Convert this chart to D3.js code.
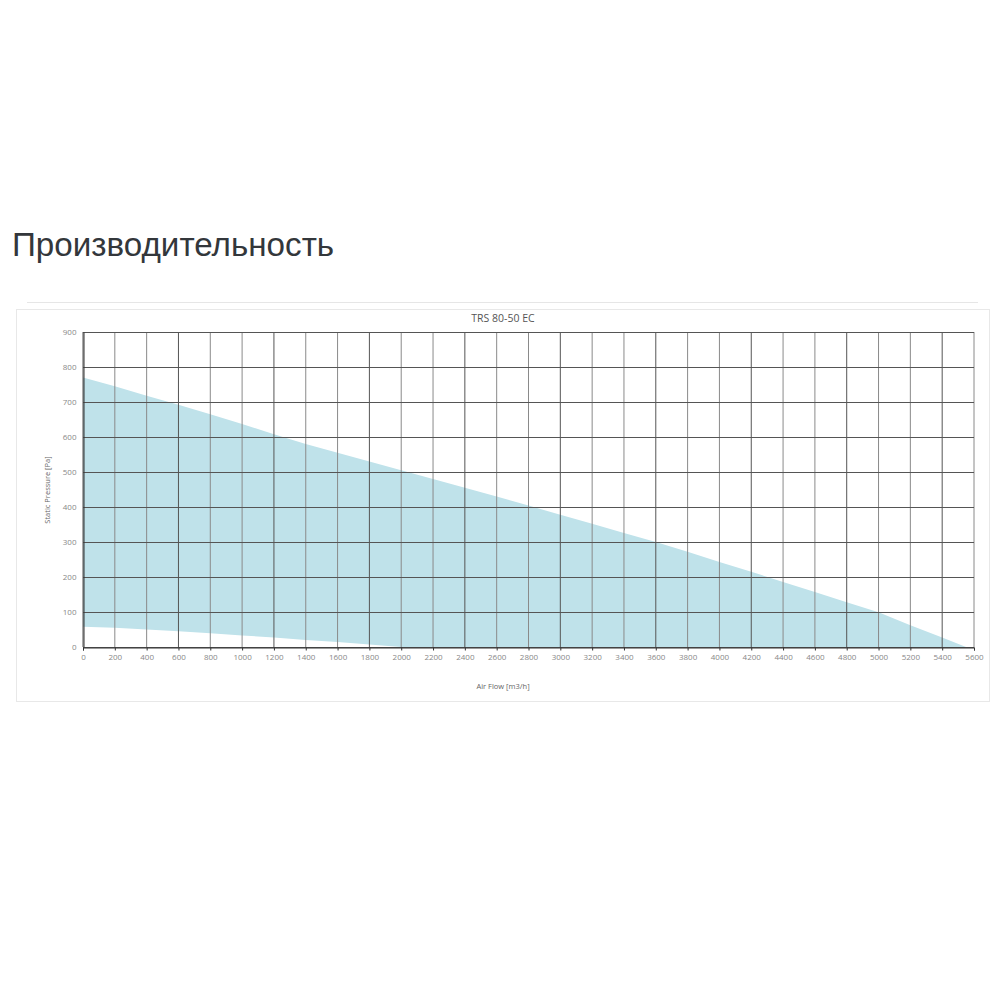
<!DOCTYPE html>
<html>
<head>
<meta charset="utf-8">
<script src="https://cdn.jsdelivr.net/npm/d3@7"></script>
<style>
  body { margin: 0; background: #fff; }
  svg { display: block; }
</style>
</head>
<body>
<svg id="chart" width="1000" height="1000"></svg>
<script>
// curve data
const upperFlow = [0, 200, 400, 600, 800, 1000, 1200, 1400, 1600, 1800, 2000, 2200, 2400, 2600, 2800,
  3000, 3200, 3400, 3600, 3800, 4000, 4200, 4400, 4600, 4800, 5000, 5200, 5400, 5550]
const upperPressure = [770, 745, 718, 692, 665, 637, 608, 580, 555, 530, 505, 480, 455, 430, 404,
  378, 352, 326, 300, 272, 243, 215, 186, 157, 128, 99, 62, 27, 0]
const lowerFlow = [0, 200, 400, 600, 800, 1000, 1200, 1400, 1600, 1800, 2000]
const lowerPressure = [58, 55, 50, 45, 39, 33, 27, 20, 14, 7, 0]

const xTicks = d3.range(0, 5601, 200)
const yTicks = d3.range(0, 901, 100)

const pageTitle = 'Производительность'
const chartTitle = 'TRS 80-50 EC'
const xLabel = 'Air Flow [m3/h]'
const yLabel = 'Static Pressure [Pa]'

const margin = { top: 332, bottom: 353, left: 83, right: 26 }
const width = 1000
const height = 1000

const x = d3.scaleLinear().domain([0, 5600]).range([margin.left, width - margin.right])
const y = d3.scaleLinear().domain([0, 900]).range([height - margin.bottom, margin.top])

const svg = d3.select('#chart')

// page heading
svg.append('text')
  .attr('x', 12)
  .attr('y', 256)
  .attr('font-family', 'Liberation Sans, Arial, sans-serif')
  .attr('font-size', 33.2)
  .attr('fill', '#33373b')
  .text(pageTitle)

// card
svg.append('line')
  .attr('x1', 27).attr('x2', 978)
  .attr('y1', 302.5).attr('y2', 302.5)
  .attr('stroke', '#e6e6e6')
svg.append('rect')
  .attr('x', 16.5).attr('y', 309.5)
  .attr('width', 973).attr('height', 392)
  .attr('fill', '#fff')
  .attr('stroke', '#e8e8e8')

// area between lower and upper curve
const upper = upperFlow.map((d, i) => ({ x: d, y: upperPressure[i] }))
const lower = lowerFlow.map((d, i) => ({ x: d, y: lowerPressure[i] }))
const poly = upper.concat([{ x: lowerFlow[lowerFlow.length - 1], y: 0 }], lower.slice().reverse())

const line = d3.line()
  .x(d => x(d.x))
  .y(d => y(d.y))

svg.append('path')
  .datum(poly)
  .attr('d', d => line(d) + 'Z')
  .attr('fill', '#bfe2ea')

// grid
const grid = svg.append('g')
grid.selectAll('.vx')
  .data(xTicks)
  .join('line')
  .attr('x1', d => x(d)).attr('x2', d => x(d))
  .attr('y1', y(900)).attr('y2', y(0))
  .attr('stroke', (d, i) => i % 3 === 0 ? '#555' : '#8a8a8a')
  .attr('stroke-width', 1)
grid.selectAll('.hy')
  .data(yTicks)
  .join('line')
  .attr('x1', x(0)).attr('x2', x(5600))
  .attr('y1', d => y(d) + 0.5).attr('y2', d => y(d) + 0.5)
  .attr('stroke', '#555')
  .attr('stroke-width', 1)

// axes
const xAxis = g => g
  .attr('transform', `translate(0,${y(0) + 0.5})`)
  .call(d3.axisBottom(x).tickValues(xTicks).tickFormat(d3.format('d')).tickSize(3).tickPadding(4))
  .call(g => g.select('.domain').attr('stroke', '#333'))
  .call(g => g.selectAll('.tick line').attr('stroke', '#333'))

const yAxis = g => g
  .attr('transform', `translate(${x(0) + 0.5},0)`)
  .call(d3.axisLeft(y).tickValues(yTicks).tickFormat(d3.format('d')).tickSize(0).tickPadding(7))
  .call(g => g.select('.domain').attr('stroke', '#333'))

svg.append('g').call(xAxis)
svg.append('g').call(yAxis)

svg.selectAll('.tick text')
  .attr('font-family', 'Open Sans, sans-serif')
  .attr('font-size', 8)
  .attr('fill', '#888')

// titles
svg.append('text')
  .attr('x', 503).attr('y', 322)
  .attr('text-anchor', 'middle')
  .attr('font-family', 'Open Sans, sans-serif')
  .attr('font-size', 10.5)
  .attr('fill', '#555')
  .text(chartTitle)

svg.append('text')
  .attr('x', 503).attr('y', 689)
  .attr('text-anchor', 'middle')
  .attr('font-family', 'Open Sans, sans-serif')
  .attr('font-size', 7.5)
  .attr('fill', '#666')
  .text(xLabel)

svg.append('text')
  .attr('transform', 'translate(50,490) rotate(-90)')
  .attr('text-anchor', 'middle')
  .attr('font-family', 'Open Sans, sans-serif')
  .attr('font-size', 7.5)
  .attr('fill', '#666')
  .text(yLabel)
</script>
</body>
</html>
